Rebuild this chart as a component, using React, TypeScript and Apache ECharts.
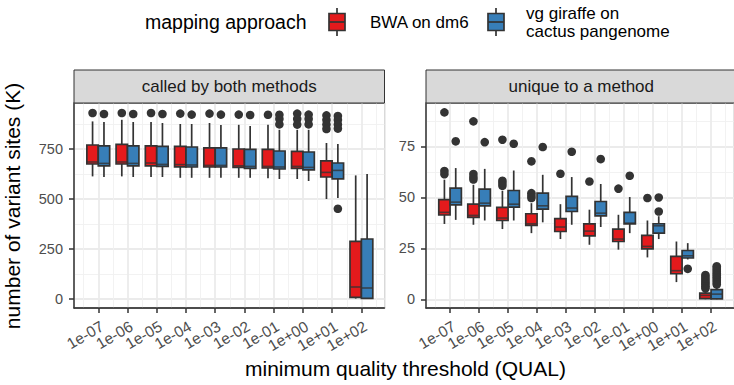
import React, { useEffect, useRef } from "react";
import * as echarts from "echarts";

// QUAL thresholds on the x axis (one box pair per threshold)
const thresholds = ["1e-07", "1e-06", "1e-05", "1e-04", "1e-03", "1e-02", "1e-01", "1e+00", "1e+01", "1e+02"];
const methodNames = ["BWA on dm6", "vg giraffe on\ncactus pangenome"];
const methodColors = ["#E41A1C", "#377EB8"];
const facetTitles = ["called by both methods", "unique to a method"];

// Five-number summaries per threshold: [lower whisker, Q1, median, Q3, upper whisker], thousands of sites
const bothBwaStats = [
  [613, 675, 685, 770, 888],
  [613, 675, 685, 773, 896],
  [610, 666, 680, 766, 885],
  [606, 661, 672, 763, 875],
  [606, 660, 668, 756, 880],
  [606, 658, 666, 750, 871],
  [604, 655, 663, 748, 871],
  [600, 653, 663, 738, 846],
  [500, 610, 633, 691, 780],
  [2, 8, 60, 288, 618],
];
const bothBwaOutliers = [[930], [930], [930], [927], [927], [922], [921], [927, 900, 872], [918, 895, 872, 850], []];

const bothVgStats = [
  [610, 666, 678, 766, 885],
  [610, 666, 678, 766, 885],
  [610, 663, 673, 763, 880],
  [606, 660, 670, 760, 875],
  [606, 660, 668, 756, 870],
  [606, 653, 663, 748, 865],
  [600, 650, 660, 740, 846],
  [590, 646, 658, 735, 846],
  [505, 601, 643, 680, 775],
  [0, 3, 55, 300, 625],
];
const bothVgOutliers = [[925], [925], [925], [922], [922], [920], [921, 900, 873], [922, 900, 873], [915, 895, 872, 852, 451], []];

const uniqueBwaStats = [
  [37, 41.4, 42.7, 48.9, 58.7],
  [36.6, 40.2, 41.2, 46.7, 56.2],
  [34.5, 38.7, 39.9, 45.1, 53.3],
  [32.5, 36.3, 37.1, 42, 47.2],
  [29.6, 33.3, 35.5, 39.6, 46.7],
  [26.8, 31.2, 33.5, 37, 44],
  [24.4, 28.4, 29.6, 34.5, 41.5],
  [20.6, 24.8, 26, 31.4, 38.7],
  [8.5, 12.6, 14.1, 21.1, 28.4],
  [0.1, 0.4, 2, 3.1, 4.6],
];
const uniqueBwaOutliers = [
  [91.7, 63, 61.4],
  [87.3, 61.5, 60, 58.8],
  [78.3, 58.2, 57, 55.7],
  [67.7, 52.1, 50.8, 49.7],
  [61.6],
  [57.8],
  [54.3],
  [49.7],
  [],
  [12, 11, 10, 9, 8.1, 7.2, 6.3, 5.4],
];

const uniqueVgStats = [
  [39, 46.4, 47.7, 54.6, 64.4],
  [38.7, 45.9, 47.2, 54.1, 64],
  [38.7, 45.3, 46.7, 53.4, 63.2],
  [37.8, 44.3, 45.9, 52.1, 61.1],
  [36.6, 43.1, 44.8, 50.5, 60],
  [35.5, 41, 42.3, 48, 56.6],
  [32.5, 37, 37.4, 42.7, 50.2],
  [29.6, 32.5, 36.1, 37.1, 40.8],
  [19.6, 20.3, 21.4, 24, 27.6],
  [0.1, 0.3, 2.6, 4.8, 6],
];
const uniqueVgOutliers = [[77.5], [77.1], [76.3], [74.7], [72.4], [68.8], [60.6], [50, 43.1], [15], [16.3, 15.4, 14.5, 13.6, 12.7, 11.8, 10.9, 10, 9.1, 8.2, 7.3]];

// Axis breaks
const leftMajorTicks = [0, 250, 500, 750];
const leftMinorTicks = [125, 375, 625, 875];
const rightMajorTicks = [0, 25, 50, 75];
const rightMinorTicks = [12.5, 37.5, 62.5, 87.5];
const X_MIN = -0.83;
const X_MAX = 9.79;
// the panel edges carry blank end labels so every threshold label stays visible
const xMajorTicks = [X_MIN, ...thresholds.map((_, i) => i), X_MAX];
const xMinorTicks = [-0.5, ...thresholds.map((_, i) => i + 0.5)];

const FONT = "'Liberation Sans', Arial, Helvetica, sans-serif";
const INK = "#333333";
const GRID_MAJOR = "#EBEBEB";
const GRID_MINOR = "#F1F1F1";
const BOX_WIDTH = 0.39;
const DODGE = 0.195;

const PANEL_TOP = 103;
const PANEL_H = 205;
const PANEL_W = 310.5;
const PANEL_LEFTS = [74, 426];
const STRIP_TOP = 70;

const thresholdLabel = (v: number) => (Math.abs(v - Math.round(v)) < 1e-6 ? thresholds[Math.round(v)] ?? "" : "");

const boxRenderer = (offset: number, fill: string) => (_params: any, api: any) => {
  const x = api.value(0) + offset;
  const cx = api.coord([x, api.value(1)])[0];
  const yLo = api.coord([x, api.value(1)])[1];
  const yQ1 = api.coord([x, api.value(2)])[1];
  const yMed = api.coord([x, api.value(3)])[1];
  const yQ3 = api.coord([x, api.value(4)])[1];
  const yHi = api.coord([x, api.value(5)])[1];
  const half = api.size([BOX_WIDTH, 0])[0] / 2;
  const line = { stroke: INK, lineWidth: 1.7 };
  return {
    type: "group",
    children: [
      { type: "line", shape: { x1: cx, y1: yHi, x2: cx, y2: yQ3 }, style: line },
      { type: "line", shape: { x1: cx, y1: yQ1, x2: cx, y2: yLo }, style: line },
      {
        type: "rect",
        shape: { x: cx - half, y: yQ3, width: half * 2, height: Math.max(yQ1 - yQ3, 0.5) },
        style: { fill, stroke: INK, lineWidth: 1.7 },
      },
      { type: "line", shape: { x1: cx - half, y1: yMed, x2: cx + half, y2: yMed }, style: { stroke: INK, lineWidth: 1.6, opacity: 0.8 } },
    ],
  };
};

const outlierRenderer = (offset: number) => (_params: any, api: any) => {
  const p = api.coord([api.value(0) + offset, api.value(1)]);
  return { type: "circle", shape: { cx: p[0], cy: p[1], r: 4.3 }, style: { fill: INK } };
};

const toBoxData = (stats: number[][]) => stats.map((s, i) => [i, ...s]);
const toOutlierData = (groups: number[][]) => groups.flatMap((vals, i) => vals.map((v) => [i, v]));

function buildOption() {
  const panels = [
    { stats: [bothBwaStats, bothVgStats], outliers: [bothBwaOutliers, bothVgOutliers], major: leftMajorTicks, minor: leftMinorTicks, min: -45, max: 980 },
    { stats: [uniqueBwaStats, uniqueVgStats], outliers: [uniqueBwaOutliers, uniqueVgOutliers], major: rightMajorTicks, minor: rightMinorTicks, min: -4.2, max: 96.3 },
  ];

  const grid: any[] = [];
  const xAxis: any[] = [];
  const yAxis: any[] = [];
  const series: any[] = [];
  const graphic: any[] = [];

  panels.forEach((p, i) => {
    grid.push({
      left: PANEL_LEFTS[i],
      top: PANEL_TOP,
      width: PANEL_W,
      height: PANEL_H,
      show: true,
      backgroundColor: "#ffffff",
      borderColor: INK,
      borderWidth: 1,
    });

    const xRange = { min: X_MIN, max: X_MAX };
    xAxis.push({
      type: "value",
      gridIndex: i,
      ...xRange,
      axisLine: { show: true, onZero: false, lineStyle: { color: INK, width: 1.5 } },
      axisTick: { show: true, length: 5, lineStyle: { color: INK, width: 1.5 }, customValues: xMajorTicks },
      axisLabel: {
        customValues: xMajorTicks,
        formatter: thresholdLabel,
        rotate: 30,
        align: "right",
        verticalAlign: "top",
        margin: 10,
        color: "#4D4D4D",
        fontSize: 15.5,
        fontFamily: FONT,
        hideOverlap: false,
        showMinLabel: false,
        showMaxLabel: false,
      },
      splitLine: { show: true, lineStyle: { color: GRID_MAJOR, width: 1.8 } },
    });
    xAxis.push({
      type: "value",
      gridIndex: i,
      ...xRange,
      axisLine: { show: false },
      axisTick: { show: false, customValues: xMinorTicks },
      axisLabel: { show: false },
      splitLine: { show: true, lineStyle: { color: GRID_MINOR, width: 0.9 } },
    });

    yAxis.push({
      type: "value",
      gridIndex: i,
      min: p.min,
      max: p.max,
      axisLine: { show: true, onZero: false, lineStyle: { color: INK, width: 1.5 } },
      axisTick: { show: true, length: 5, lineStyle: { color: INK, width: 1.5 }, customValues: p.major },
      axisLabel: {
        customValues: p.major,
        margin: 11,
        color: "#4D4D4D",
        fontSize: 14.5,
        fontFamily: FONT,
        hideOverlap: false,
        showMinLabel: true,
        showMaxLabel: true,
      },
      splitLine: { show: true, lineStyle: { color: GRID_MAJOR, width: 1.8 } },
    });
    yAxis.push({
      type: "value",
      gridIndex: i,
      position: "right",
      min: p.min,
      max: p.max,
      axisLine: { show: false },
      axisTick: { show: false, customValues: p.minor },
      axisLabel: { show: false },
      splitLine: { show: true, lineStyle: { color: GRID_MINOR, width: 0.9 } },
    });

    [0, 1].forEach((m) => {
      const offset = m === 0 ? -DODGE : DODGE;
      series.push({
        type: "custom",
        name: methodNames[m],
        xAxisIndex: 2 * i,
        yAxisIndex: 2 * i,
        data: toBoxData(p.stats[m]),
        encode: { x: 0, y: [1, 2, 3, 4, 5] },
        renderItem: boxRenderer(offset, methodColors[m]),
        z: 3,
      });
      series.push({
        type: "custom",
        name: methodNames[m],
        xAxisIndex: 2 * i,
        yAxisIndex: 2 * i,
        data: toOutlierData(p.outliers[m]),
        encode: { x: 0, y: 1 },
        renderItem: outlierRenderer(offset),
        z: 4,
      });
    });

    // facet strip
    graphic.push({
      type: "rect",
      shape: { x: PANEL_LEFTS[i], y: STRIP_TOP, width: PANEL_W, height: PANEL_TOP - STRIP_TOP },
      style: { fill: "#D9D9D9", stroke: INK, lineWidth: 1 },
      z: 5,
    });
    graphic.push({
      type: "text",
      x: PANEL_LEFTS[i] + PANEL_W / 2,
      y: (STRIP_TOP + PANEL_TOP) / 2,
      style: { text: facetTitles[i], fontSize: 17, fontFamily: FONT, fill: "#1A1A1A", align: "center", verticalAlign: "middle" },
      z: 6,
    });
  });

  // axis titles
  graphic.push({
    type: "text",
    x: 405.5,
    y: 368,
    style: { text: "minimum quality threshold (QUAL)", fontSize: 21, fontFamily: FONT, fill: "#000", align: "center", verticalAlign: "middle" },
  });
  graphic.push({
    type: "text",
    x: 12,
    y: 206,
    rotation: Math.PI / 2,
    style: { text: "number of variant sites (K)", fontSize: 21, fontFamily: FONT, fill: "#000", align: "center", verticalAlign: "middle" },
  });

  // legend: title, boxplot keys and labels
  graphic.push({
    type: "text",
    x: 145,
    y: 22,
    style: { text: "mapping approach", fontSize: 19.5, fontFamily: FONT, fill: "#000", align: "left", verticalAlign: "middle" },
  });
  const keyLefts = [329, 488];
  const labelLefts = [370, 526];
  [0, 1].forEach((m) => {
    const kx = keyLefts[m];
    const kw = 16;
    const cx = kx + kw / 2;
    graphic.push({ type: "line", shape: { x1: cx, y1: 8, x2: cx, y2: 36 }, style: { stroke: INK, lineWidth: 1.7 } });
    graphic.push({ type: "rect", shape: { x: kx, y: 13.5, width: kw, height: 17 }, style: { fill: methodColors[m], stroke: INK, lineWidth: 1.7 } });
    graphic.push({ type: "line", shape: { x1: kx, y1: 22, x2: kx + kw, y2: 22 }, style: { stroke: INK, lineWidth: 1.7 } });
    graphic.push({
      type: "text",
      x: labelLefts[m],
      y: 22,
      style: { text: methodNames[m], fontSize: 17, lineHeight: 18, fontFamily: FONT, fill: "#000", align: "left", verticalAlign: "middle" },
    });
  });

  return {
    animation: false,
    backgroundColor: "#ffffff",
    textStyle: { fontFamily: FONT },
    grid,
    xAxis,
    yAxis,
    series,
    graphic,
  };
}

export default function App() {
  const ref = useRef<HTMLDivElement>(null);
  useEffect(() => {
    if (!ref.current) return;
    const chart = echarts.init(ref.current, undefined, { renderer: "svg" });
    chart.setOption(buildOption() as any);
    return () => chart.dispose();
  }, []);
  return <div ref={ref} style={{ position: "fixed", left: 0, top: 0, width: 734, height: 385, background: "#fff" }} />;
}
